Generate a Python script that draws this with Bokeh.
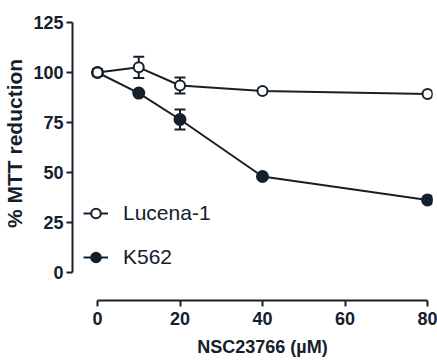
from bokeh.plotting import figure
from bokeh.models import Range1d, FixedTicker, Whisker, ColumnDataSource, Legend, LegendItem, TeeHead
from bokeh.embed import file_html
from bokeh.resources import INLINE

conc = [0, 10, 20, 40, 80]
lucena = [100, 102.6, 93.5, 90.7, 89.3]
lucena_err = [1.5, 5.3, 4.0, 0.0, 0.0]
k562 = [100, 89.7, 76.5, 48.0, 36.3]
k562_err = [1.5, 0.0, 5.0, 0.0, 0.0]
x_ticks = [0, 20, 40, 60, 80]
y_ticks = [0, 25, 50, 75, 100, 125]
x_title = "\u2007\u2007NSC23766 (µM)"
y_title = "\u2007\u2007\u00a0% MTT reduction"

INK = "#14202b"

p = figure(frame_width=360, frame_height=285, x_range=Range1d(-6.06, 81.21), y_range=Range1d(-14, 128.5),
           output_backend="svg", toolbar_location=None,
           min_border_left=72, min_border_right=5, min_border_top=15, min_border_bottom=64)
p.outline_line_color = None
p.grid.visible = False
p.background_fill_color = "white"

for ax in (p.xaxis[0], p.yaxis[0]):
    ax.axis_line_color = INK
    ax.axis_line_width = 2
    ax.major_tick_line_color = INK
    ax.major_tick_line_width = 2
    ax.major_tick_out = 6
    ax.major_tick_in = 0
    ax.minor_tick_line_color = None
    ax.major_label_text_font = "Liberation Sans"
    ax.major_label_text_font_style = "bold"
    ax.major_label_text_font_size = "18px"
    ax.major_label_text_color = INK
    ax.axis_label_text_font = "Liberation Sans"
    ax.axis_label_text_font_style = "bold"
    ax.axis_label_text_color = INK

p.xaxis[0].ticker = FixedTicker(ticks=x_ticks)
p.yaxis[0].ticker = FixedTicker(ticks=y_ticks)
p.xaxis[0].bounds = (0, 80)
p.yaxis[0].bounds = (0, 125)
p.xaxis[0].major_label_standoff = 5
p.yaxis[0].major_label_standoff = 3

p.yaxis[0].axis_label = y_title
p.yaxis[0].axis_label_text_font_size = "21px"
p.yaxis[0].axis_label_standoff = 4

p.xaxis[0].axis_label = x_title
p.xaxis[0].axis_label_text_font_size = "18px"
p.xaxis[0].axis_label_standoff = 9

src_l = ColumnDataSource(dict(x=conc, y=lucena, lo=[a - b for a, b in zip(lucena, lucena_err)],
                              hi=[a + b for a, b in zip(lucena, lucena_err)]))
src_k = ColumnDataSource(dict(x=conc, y=k562, lo=[a - b for a, b in zip(k562, k562_err)],
                              hi=[a + b for a, b in zip(k562, k562_err)]))

for src in (src_l, src_k):
    w = Whisker(source=src, base="x", lower="lo", upper="hi", line_color=INK, line_width=2,
                upper_head=TeeHead(size=11, line_color=INK, line_width=2),
                lower_head=TeeHead(size=11, line_color=INK, line_width=2))
    p.add_layout(w)

lk = p.line("x", "y", source=src_k, line_color=INK, line_width=2)
ck = p.scatter("x", "y", source=src_k, size=11, fill_color=INK, line_color=INK, line_width=2)
ll = p.line("x", "y", source=src_l, line_color=INK, line_width=2)
cl = p.scatter("x", "y", source=src_l, size=10, fill_color="white", line_color=INK, line_width=2)

legend = Legend(items=[LegendItem(label="Lucena-1", renderers=[ll, cl]),
                       LegendItem(label="K562", renderers=[lk, ck])],
                location=(11, 31), border_line_color=None, background_fill_alpha=0,
                padding=0, margin=0, glyph_width=25, glyph_height=24, spacing=20,
                label_standoff=15, label_text_font="Liberation Sans", label_text_font_size="21px",
                label_text_color=INK, label_height=24)
p.add_layout(legend, "center")

open("out.html", "w").write(file_html(p, INLINE))
